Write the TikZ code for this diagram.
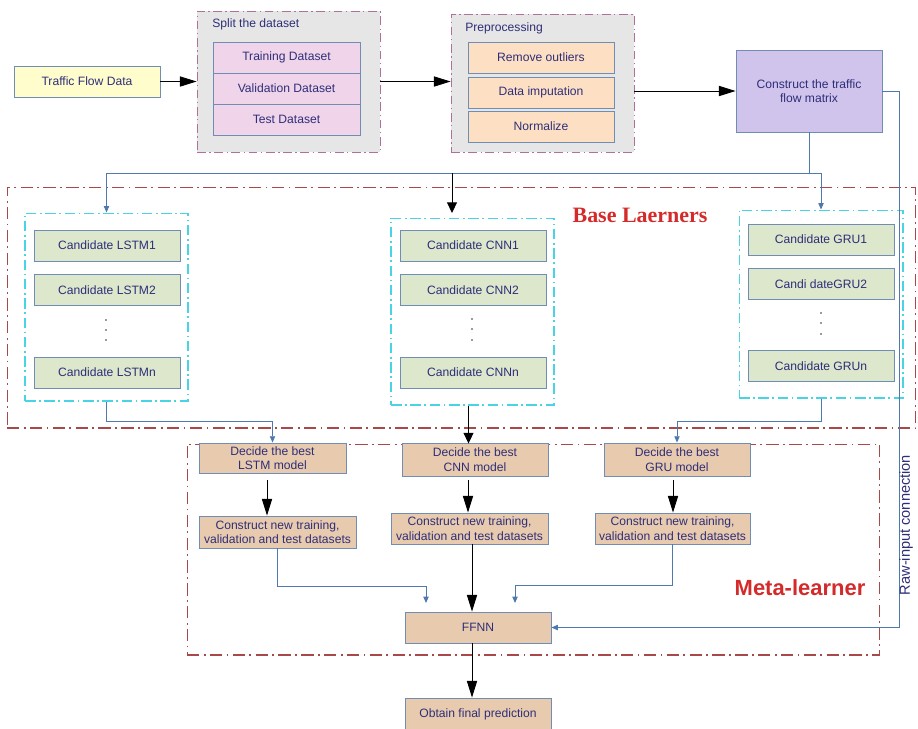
\documentclass[tikz,border=0pt]{standalone}
\usepackage{fontspec}
\setmainfont{Liberation Sans}
\newfontfamily\serifhead{Liberation Serif}
\usetikzlibrary{arrows.meta,positioning}
\definecolor{navy}{HTML}{2E2E78}
\definecolor{boxline}{HTML}{6F8DB5}
\definecolor{flowblue}{HTML}{4F78AE}
\definecolor{yellowfill}{HTML}{FFFDCC}
\definecolor{grayfill}{HTML}{E6E6E6}
\definecolor{grayline}{HTML}{B0709A}
\definecolor{pinkfill}{HTML}{EFD4EA}
\definecolor{peachfill}{HTML}{FDE0C4}
\definecolor{lavfill}{HTML}{D0C4EC}
\definecolor{greenfill}{HTML}{DCE7CC}
\definecolor{tanfill}{HTML}{E8CBAE}
\definecolor{redline}{HTML}{A84848}
\definecolor{cyanline}{HTML}{48D4E4}
\definecolor{headred}{HTML}{D42A2A}

\begin{document}
\begin{tikzpicture}[x=0.02cm,y=-0.02cm,line width=0.5pt,
	font=\fontsize{6.9}{8.2}\selectfont,
	box/.style={draw=boxline,line width=0.5pt,text=navy,align=center,inner sep=0pt,
		minimum width=2.92cm,minimum height=0.62cm},
	grpbox/.style={draw=grayline,fill=grayfill,line width=0.5pt,
		dash pattern=on 5pt off 2pt on 0.8pt off 2pt,inner sep=0pt},
	outerbox/.style={draw=redline,line width=0.6pt,
		dash pattern=on 7pt off 2.5pt on 1pt off 2.5pt,inner sep=0pt},
	candbox/.style={draw=cyanline,line width=0.6pt,
		dash pattern=on 6pt off 2pt on 1pt off 2pt,inner sep=0pt,minimum width=3.26cm,minimum height=3.76cm},
	bigarrow/.style={-{Triangle[length=9.5pt,width=5.8pt]},black},
	midarrow/.style={-{Triangle[length=6pt,width=5.6pt]},black},
	bluearrow/.style={-{Triangle[length=3.6pt,width=3pt]},flowblue}]
	\useasboundingbox (0,0) rectangle (918,728);

	\node (traffic)[box,fill=yellowfill] at (87,81.5) {Traffic Flow Data};

	\node (split)[grpbox,minimum width=3.66cm,minimum height=2.82cm] at (288.5,81.5) {};
	\node (splittitle)[anchor=base west,text=navy] at (206,27) {Split the dataset};
	\foreach \name/\y/\txt in {train/57.5/Training Dataset,valid/88.5/Validation Dataset,test/119.5/Test Dataset}{
		\node (\name)[box,fill=pinkfill,minimum width=2.94cm] at (286.5,\y) {\txt};
	}

	\node (prep)[grpbox,minimum width=3.66cm,minimum height=2.76cm] at (542.5,83) {};
	\node (preptitle)[anchor=base west,text=navy] at (459,31) {Preprocessing};
	\foreach \name/\y/\txt in {outl/57.5/Remove outliers,imput/92.5/Data imputation,norm/126.5/Normalize}{
		\node (\name)[box,fill=peachfill] at (541,\y) {\txt};
	}

	\node (matrix)[box,fill=lavfill,minimum height=1.64cm] at (809,91) {Construct the traffic\\flow matrix};

	\draw[bigarrow] (traffic) -- (split);
	\draw[bigarrow] (split.east) -- (split.east -| prep.west);
	\draw[bigarrow] (prep.east |- matrix.west) -- (matrix.west);

	\node (base)[outerbox,minimum width=18.18cm,minimum height=4.82cm] at (461.5,307.5) {};
	\node (baselbl)[text=headred,font=\serifhead\bfseries\fontsize{12.5}{14}\selectfont] at (640,215) {Base Laerners};

	\node (lstmgrp)[candbox] at (106.5,307) {};
	\node (cnngrp)[candbox,minimum height=3.74cm] at (472.5,311.5) {};
	\node (grugrp)[candbox,minimum width=3.28cm] at (821,304) {};
	\foreach \name/\x/\y/\txt in {
		lstma/107/245.5/Candidate LSTM1, lstmb/107/290/Candidate LSTM2, lstmn/107/372.5/Candidate LSTMn,
		cnna/473/245.5/Candidate CNN1, cnnb/473/290/Candidate CNN2, cnnn/473/372.5/Candidate CNNn,
		grua/821/239.5/Candidate GRU1, grub/821/284/Candi dateGRU2, grun/821/366/Candidate GRUn}{
		\node (\name)[box,fill=greenfill] at (\x,\y) {\txt};
	}
	\foreach \x/\y in {106/320,106/330,106/340,472/319,472/329,472/340,821/313,821/323,821/334}{
		\fill[black!80] (\x,\y) circle (0.55pt);
	}

	\coordinate (tap) at (452,173);
	\draw[bluearrow] (matrix.south) -- ++(0,41) -| (lstmgrp.north);
	\draw[bluearrow] (matrix.south) -- ++(0,41) -| (grugrp.north);
	\draw[midarrow] (tap) -- ++(0,40);

	\node (meta)[outerbox,minimum width=13.86cm,minimum height=4.22cm] at (533.5,549.5) {};
	\node (metalbl)[text=headred,font=\bfseries\fontsize{12.5}{14}\selectfont] at (800,588) {Meta-learner};

	\node (declstm)[box,fill=tanfill,minimum width=2.94cm,minimum height=0.6cm] at (272.5,458) {Decide the best\\LSTM model};
	\node (deccnn)[box,fill=tanfill,minimum height=0.66cm] at (475,459.5) {Decide the best\\CNN model};
	\node (decgru)[box,fill=tanfill,minimum height=0.66cm] at (677,459.5) {Decide the best\\GRU model};
	\node (conlstm)[box,fill=tanfill,minimum width=3.14cm,minimum height=0.64cm] at (277.5,532) {Construct new training,\\validation and test datasets};
	\node (concnn)[box,fill=tanfill,minimum width=3.14cm] at (469.5,528.5) {Construct new training,\\validation and test datasets};
	\node (congru)[box,fill=tanfill,minimum width=3.1cm] at (672.5,528.5) {Construct new training,\\validation and test datasets};
	\node (ffnn)[box,fill=tanfill] at (478,627.5) {FFNN};
	\node (final)[box,fill=tanfill,minimum height=0.64cm] at (478,714) {Obtain final prediction};

	\draw[bluearrow] (lstmgrp.south) -- ++(0,20) -| (declstm.north);
	\draw[midarrow] (cnngrp.south) ++(-4,0) -- ++(0,38);
	\draw[bluearrow] (grugrp.south) -- ++(0,23) -| (decgru.north);

	\coordinate (dl) at (267,480);
	\coordinate (dc) at (468,480);
	\coordinate (dg) at (673,480);
	\draw[bigarrow] (dl) -- (dl |- conlstm.north);
	\draw[bigarrow] (dc) -- (dc |- concnn.north);
	\draw[bigarrow] (dg) -- (dg |- congru.north);

	\coordinate (inl) at (426,603);
	\coordinate (inr) at (515,603);
	\coordinate (mid) at (472,0);
	\draw[bluearrow] (conlstm.south) -- ++(0,38) -| (inl);
	\draw[bluearrow] (congru.south) -- ++(0,41) -| (inr);
	\draw[bigarrow] (mid |- concnn.south) -- (mid |- ffnn.north);
	\draw[bigarrow] (mid |- ffnn.south) -- (mid |- final.north);

	\draw[bluearrow] (matrix.east) -- ++(17,0) |- (ffnn.east);
	\node (rawlbl)[rotate=90,text=navy,font=\fontsize{8.3}{10}\selectfont] at (906,525) {Raw-input connection};
\end{tikzpicture}
\end{document}
